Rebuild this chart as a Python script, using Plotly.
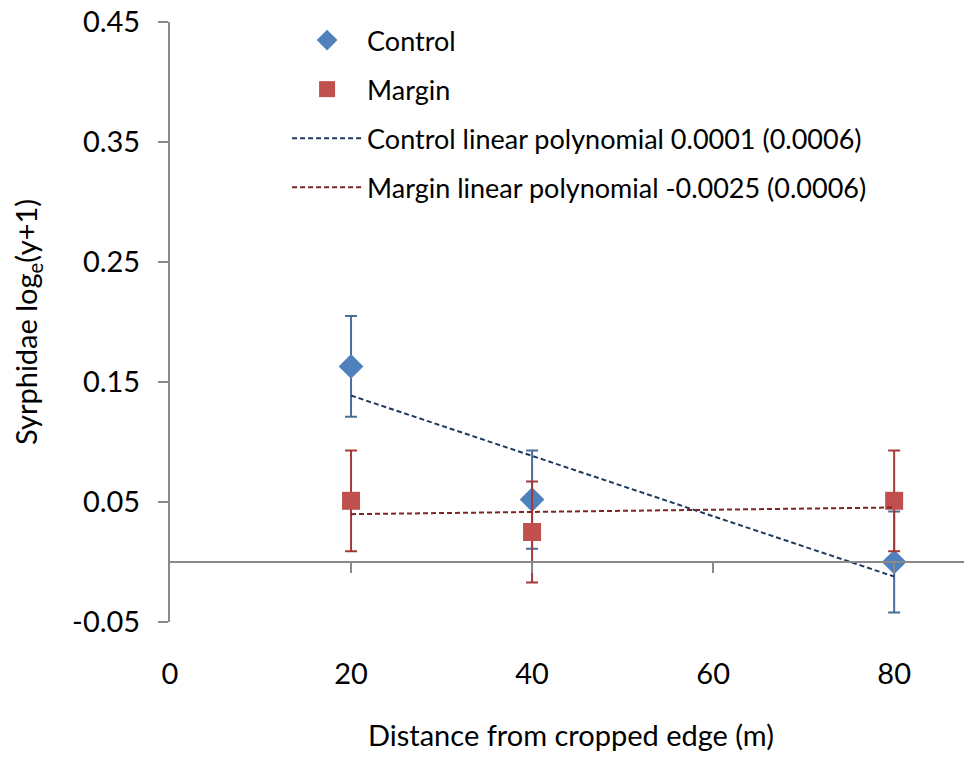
import numpy as np
import plotly.graph_objects as go

# ---- data ----
distance = [20, 40, 80]
control_mean = [0.163, 0.052, 0.000]
control_err = [0.042, 0.041, 0.042]
margin_mean = [0.051, 0.025, 0.051]
margin_err = [0.042, 0.042, 0.042]

y_tickvals = [-0.05, 0.05, 0.15, 0.25, 0.35, 0.45]
y_ticktext = ["-0.05", "0.05", "0.15", "0.25", "0.35", "0.45"]
x_tickvals = [0, 20, 40, 60, 80]
x_ticktext = ["0", "20", "40", "60", "80"]

names = ["Control", "Margin",
         "Control linear polynomial 0.0001 (0.0006)",
         "Margin linear polynomial -0.0025 (0.0006)"]

# linear trend fits
c_fit = np.polyfit(distance, control_mean, 1)
m_fit = np.polyfit(distance, margin_mean, 1)
trend_x = [distance[0], distance[-1]]
c_trend = list(np.polyval(c_fit, trend_x))
m_trend = list(np.polyval(m_fit, trend_x))

FONT = "Lato"
FS = 27
TICK_FS = 29
TITLE_FS = 29
BLUE = "#4F81BD"
RED = "#C0504D"
AXIS = "#898989"

fig = go.Figure()
fig.add_trace(go.Scatter(
    x=distance, y=control_mean, mode="markers", name=names[0], legendgroup="a",
    marker=dict(symbol="diamond", size=19, color=BLUE),
    error_y=dict(type="data", array=control_err, color="#4A6D99", thickness=2, width=6),
))
fig.add_trace(go.Scatter(
    x=distance, y=margin_mean, mode="markers", name=names[1], legendgroup="b",
    marker=dict(symbol="square", size=18, color=RED),
    error_y=dict(type="data", array=margin_err, color="#A33A38", thickness=2, width=6),
))
fig.add_trace(go.Scatter(
    x=trend_x, y=c_trend, mode="lines", name=names[2], xaxis="x2", legendgroup="c",
    line=dict(color="#1F3A5F", width=2, dash="5px,3px"),
))
fig.add_trace(go.Scatter(
    x=trend_x, y=m_trend, mode="lines", name=names[3], xaxis="x2", legendgroup="d",
    line=dict(color="#7B2424", width=2, dash="5px,3px"),
))

xr = [0, 88.6]
fig.update_layout(
    width=964, height=749,
    margin=dict(l=162, r=0, t=14, b=135),
    paper_bgcolor="white", plot_bgcolor="white",
    font=dict(family=FONT, size=FS, color="black"),
    showlegend=True,
    legend=dict(x=0.146, y=1.01, xanchor="left", yanchor="top",
                font=dict(family=FONT, size=FS), itemwidth=70,
                bgcolor="rgba(0,0,0,0)", tracegroupgap=11),
    xaxis=dict(range=xr, tickvals=x_tickvals, ticktext=x_ticktext, automargin=False,
               showline=False, showgrid=False, zeroline=False,
               ticks="outside", ticklen=26, tickcolor="rgba(0,0,0,0)",
               ticklabeloverflow="allow",
               tickfont=dict(family=FONT, size=TICK_FS),
               title=dict(text="Distance from cropped edge (m)", standoff=36,
                          font=dict(family=FONT, size=TITLE_FS))),
    xaxis2=dict(range=xr, overlaying="x", anchor="free", position=0.1, automargin=False,
                side="bottom", tickvals=x_tickvals[1:], showticklabels=False,
                showline=True, linecolor=AXIS, linewidth=2,
                ticks="outside", ticklen=10, tickcolor=AXIS, tickwidth=2,
                showgrid=False, zeroline=False),
    yaxis=dict(range=[-0.05, 0.45], tickvals=y_tickvals, ticktext=y_ticktext, automargin=False,
               showline=True, linecolor=AXIS, linewidth=2,
               ticks="outside", ticklen=10, tickcolor=AXIS, tickwidth=2,
               ticklabelstandoff=12, ticklabeloverflow="allow",
               tickfont=dict(family=FONT, size=TICK_FS),
               showgrid=False, zeroline=False,
               title=dict(text="Syrphidae log<sub>e</sub>(y+1)", standoff=30,
                          font=dict(family=FONT, size=TITLE_FS))),
)

fig.write_html("out.html")
